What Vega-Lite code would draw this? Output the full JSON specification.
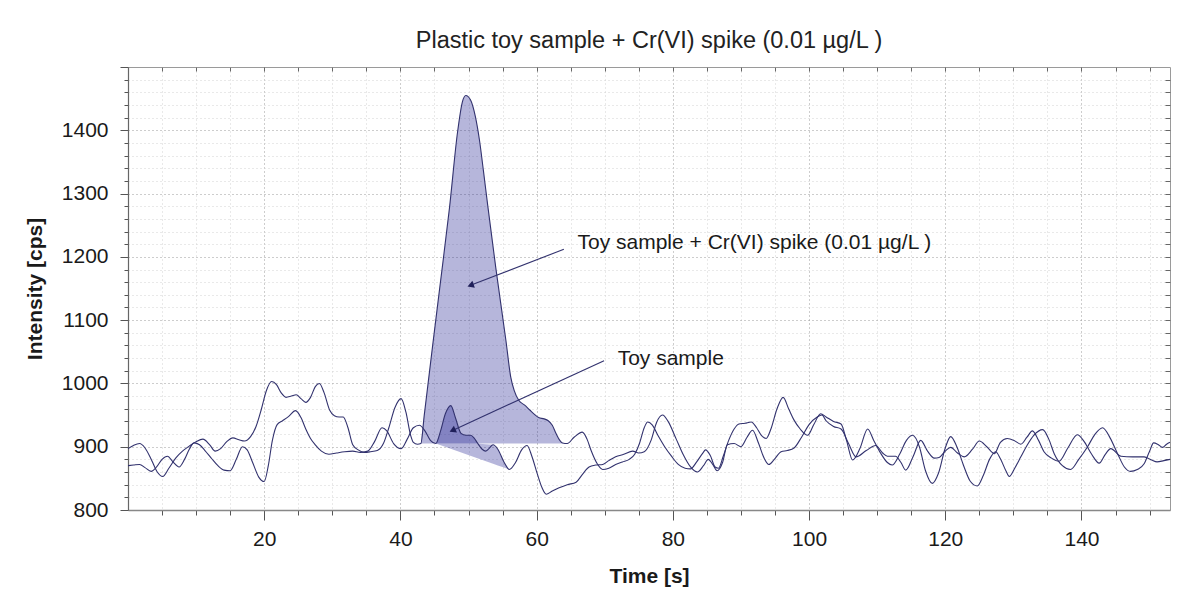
{
  "$schema": "https://vega.github.io/schema/vega-lite/v6.json",
  "width": 1042,
  "height": 443,
  "autosize": {"type": "none"},
  "padding": {"left": 128, "top": 67, "right": 28, "bottom": 90},
  "background": "white",
  "title": {"text": "Plastic toy sample + Cr(VI) spike (0.01 µg/L )", "font": "Liberation Sans", "fontSize": 23.5, "fontWeight": "normal", "color": "#222222", "anchor": "middle", "offset": 4},
  "config": {
    "view": {"stroke": "#9a9a9a", "strokeWidth": 1},
    "font": "Liberation Sans"
  },
  "datasets": {
    "signal": [
      {"t":0,"v":897,"s":"spike"},{"t":0.8,"v":902,"s":"spike"},{"t":1.7,"v":905,"s":"spike"},{"t":2.5,"v":898,"s":"spike"},{"t":3.5,"v":878,"s":"spike"},{"t":4.3,"v":860,"s":"spike"},{"t":5.1,"v":853,"s":"spike"},{"t":6.0,"v":866,"s":"spike"},{"t":7.0,"v":882,"s":"spike"},{"t":8.0,"v":893,"s":"spike"},{"t":9.0,"v":901,"s":"spike"},{"t":10.0,"v":908,"s":"spike"},{"t":11.0,"v":912,"s":"spike"},{"t":12.0,"v":903,"s":"spike"},{"t":12.8,"v":893,"s":"spike"},{"t":13.6,"v":897,"s":"spike"},{"t":14.5,"v":908,"s":"spike"},{"t":15.4,"v":914,"s":"spike"},{"t":16.3,"v":911,"s":"spike"},{"t":17.1,"v":909,"s":"spike"},{"t":18.0,"v":916,"s":"spike"},{"t":18.8,"v":932,"s":"spike"},{"t":19.6,"v":960,"s":"spike"},{"t":20.3,"v":988,"s":"spike"},{"t":21.1,"v":1003,"s":"spike"},{"t":21.8,"v":998,"s":"spike"},{"t":22.5,"v":985,"s":"spike"},{"t":23.2,"v":978,"s":"spike"},{"t":24.0,"v":980,"s":"spike"},{"t":24.7,"v":982,"s":"spike"},{"t":25.4,"v":976,"s":"spike"},{"t":26.1,"v":970,"s":"spike"},{"t":26.8,"v":978,"s":"spike"},{"t":27.5,"v":995,"s":"spike"},{"t":28.1,"v":1000,"s":"spike"},{"t":28.8,"v":985,"s":"spike"},{"t":29.6,"v":958,"s":"spike"},{"t":30.3,"v":949,"s":"spike"},{"t":31.0,"v":947,"s":"spike"},{"t":31.6,"v":947,"s":"spike"},{"t":32.3,"v":930,"s":"spike"},{"t":33.0,"v":903,"s":"spike"},{"t":33.8,"v":895,"s":"spike"},{"t":34.7,"v":891,"s":"spike"},{"t":35.6,"v":892,"s":"spike"},{"t":36.6,"v":894,"s":"spike"},{"t":37.5,"v":905,"s":"spike"},{"t":38.3,"v":930,"s":"spike"},{"t":39.2,"v":962,"s":"spike"},{"t":40.1,"v":976,"s":"spike"},{"t":40.8,"v":955,"s":"spike"},{"t":41.5,"v":918,"s":"spike"},{"t":41.9,"v":907,"s":"spike"},{"t":42.5,"v":904,"s":"spike"},{"t":43.0,"v":905,"s":"spike"},{"t":43.5,"v":950,"s":"spike"},{"t":44.7,"v":1057,"s":"spike"},{"t":45.9,"v":1162,"s":"spike"},{"t":47.2,"v":1277,"s":"spike"},{"t":48.4,"v":1398,"s":"spike"},{"t":49.1,"v":1445,"s":"spike"},{"t":49.6,"v":1455,"s":"spike"},{"t":50.3,"v":1448,"s":"spike"},{"t":51.0,"v":1422,"s":"spike"},{"t":51.6,"v":1385,"s":"spike"},{"t":52.2,"v":1335,"s":"spike"},{"t":52.8,"v":1283,"s":"spike"},{"t":54.0,"v":1183,"s":"spike"},{"t":55.5,"v":1067,"s":"spike"},{"t":56.2,"v":1010,"s":"spike"},{"t":56.7,"v":989,"s":"spike"},{"t":57.4,"v":973,"s":"spike"},{"t":58.2,"v":966,"s":"spike"},{"t":59.0,"v":958,"s":"spike"},{"t":59.6,"v":952,"s":"spike"},{"t":60.3,"v":946,"s":"spike"},{"t":61.1,"v":944,"s":"spike"},{"t":61.7,"v":941,"s":"spike"},{"t":62.3,"v":934,"s":"spike"},{"t":62.8,"v":922,"s":"spike"},{"t":63.4,"v":910,"s":"spike"},{"t":63.8,"v":906,"s":"spike"},{"t":64.5,"v":905,"s":"spike"},{"t":65.5,"v":915,"s":"spike"},{"t":66.7,"v":923,"s":"spike"},{"t":67.4,"v":912,"s":"spike"},{"t":68.0,"v":894,"s":"spike"},{"t":68.9,"v":873,"s":"spike"},{"t":69.7,"v":864,"s":"spike"},{"t":70.6,"v":866,"s":"spike"},{"t":71.6,"v":872,"s":"spike"},{"t":72.6,"v":876,"s":"spike"},{"t":73.6,"v":880,"s":"spike"},{"t":74.4,"v":888,"s":"spike"},{"t":75.1,"v":905,"s":"spike"},{"t":75.8,"v":930,"s":"spike"},{"t":76.3,"v":939,"s":"spike"},{"t":77.0,"v":934,"s":"spike"},{"t":77.8,"v":918,"s":"spike"},{"t":78.8,"v":900,"s":"spike"},{"t":79.8,"v":885,"s":"spike"},{"t":80.8,"v":872,"s":"spike"},{"t":81.8,"v":866,"s":"spike"},{"t":82.6,"v":865,"s":"spike"},{"t":83.5,"v":876,"s":"spike"},{"t":84.4,"v":890,"s":"spike"},{"t":84.8,"v":895,"s":"spike"},{"t":85.5,"v":886,"s":"spike"},{"t":86.2,"v":868,"s":"spike"},{"t":86.7,"v":866,"s":"spike"},{"t":87.4,"v":885,"s":"spike"},{"t":88.2,"v":910,"s":"spike"},{"t":89.0,"v":928,"s":"spike"},{"t":89.7,"v":936,"s":"spike"},{"t":90.6,"v":937,"s":"spike"},{"t":91.5,"v":939,"s":"spike"},{"t":92.3,"v":930,"s":"spike"},{"t":93.0,"v":918,"s":"spike"},{"t":93.7,"v":913,"s":"spike"},{"t":94.4,"v":928,"s":"spike"},{"t":95.3,"v":960,"s":"spike"},{"t":96.2,"v":978,"s":"spike"},{"t":97.0,"v":960,"s":"spike"},{"t":97.8,"v":942,"s":"spike"},{"t":98.7,"v":928,"s":"spike"},{"t":99.8,"v":918,"s":"spike"},{"t":100.7,"v":935,"s":"spike"},{"t":101.7,"v":952,"s":"spike"},{"t":102.5,"v":947,"s":"spike"},{"t":103.6,"v":940,"s":"spike"},{"t":104.7,"v":936,"s":"spike"},{"t":105.5,"v":910,"s":"spike"},{"t":106.4,"v":879,"s":"spike"},{"t":107.5,"v":898,"s":"spike"},{"t":108.6,"v":928,"s":"spike"},{"t":109.5,"v":910,"s":"spike"},{"t":110.5,"v":890,"s":"spike"},{"t":111.5,"v":875,"s":"spike"},{"t":112.2,"v":871,"s":"spike"},{"t":113.3,"v":888,"s":"spike"},{"t":114.3,"v":910,"s":"spike"},{"t":115.2,"v":918,"s":"spike"},{"t":116.2,"v":900,"s":"spike"},{"t":117.1,"v":862,"s":"spike"},{"t":118.1,"v":842,"s":"spike"},{"t":119.0,"v":858,"s":"spike"},{"t":120.0,"v":898,"s":"spike"},{"t":120.8,"v":916,"s":"spike"},{"t":121.7,"v":900,"s":"spike"},{"t":122.7,"v":870,"s":"spike"},{"t":123.7,"v":845,"s":"spike"},{"t":124.7,"v":838,"s":"spike"},{"t":125.6,"v":855,"s":"spike"},{"t":126.5,"v":880,"s":"spike"},{"t":127.4,"v":892,"s":"spike"},{"t":128.1,"v":881,"s":"spike"},{"t":128.9,"v":862,"s":"spike"},{"t":129.4,"v":853,"s":"spike"},{"t":130.2,"v":866,"s":"spike"},{"t":131.1,"v":884,"s":"spike"},{"t":132.0,"v":902,"s":"spike"},{"t":133.0,"v":918,"s":"spike"},{"t":134.3,"v":927,"s":"spike"},{"t":135.2,"v":912,"s":"spike"},{"t":136.0,"v":889,"s":"spike"},{"t":137.2,"v":870,"s":"spike"},{"t":138.4,"v":864,"s":"spike"},{"t":139.6,"v":880,"s":"spike"},{"t":140.9,"v":900,"s":"spike"},{"t":142.0,"v":920,"s":"spike"},{"t":143.1,"v":930,"s":"spike"},{"t":144.2,"v":914,"s":"spike"},{"t":145.3,"v":889,"s":"spike"},{"t":146.3,"v":868,"s":"spike"},{"t":147.2,"v":861,"s":"spike"},{"t":148.2,"v":864,"s":"spike"},{"t":149.2,"v":873,"s":"spike"},{"t":150.0,"v":893,"s":"spike"},{"t":150.6,"v":906,"s":"spike"},{"t":151.3,"v":903,"s":"spike"},{"t":151.9,"v":899,"s":"spike"},{"t":152.5,"v":904,"s":"spike"},{"t":153.0,"v":907,"s":"spike"},
      {"t":0,"v":870,"s":"toy"},{"t":0.8,"v":871,"s":"toy"},{"t":1.7,"v":872,"s":"toy"},{"t":2.5,"v":867,"s":"toy"},{"t":3.4,"v":861,"s":"toy"},{"t":4.2,"v":868,"s":"toy"},{"t":5.0,"v":880,"s":"toy"},{"t":5.8,"v":885,"s":"toy"},{"t":6.6,"v":876,"s":"toy"},{"t":7.5,"v":868,"s":"toy"},{"t":8.3,"v":880,"s":"toy"},{"t":9.0,"v":896,"s":"toy"},{"t":9.7,"v":906,"s":"toy"},{"t":10.5,"v":903,"s":"toy"},{"t":11.3,"v":894,"s":"toy"},{"t":12.3,"v":881,"s":"toy"},{"t":13.2,"v":870,"s":"toy"},{"t":14.1,"v":863,"s":"toy"},{"t":15.0,"v":862,"s":"toy"},{"t":15.9,"v":880,"s":"toy"},{"t":16.8,"v":900,"s":"toy"},{"t":17.5,"v":895,"s":"toy"},{"t":18.3,"v":875,"s":"toy"},{"t":19.2,"v":852,"s":"toy"},{"t":20.0,"v":845,"s":"toy"},{"t":20.6,"v":870,"s":"toy"},{"t":21.2,"v":910,"s":"toy"},{"t":21.9,"v":935,"s":"toy"},{"t":22.7,"v":941,"s":"toy"},{"t":23.6,"v":948,"s":"toy"},{"t":24.6,"v":957,"s":"toy"},{"t":25.4,"v":946,"s":"toy"},{"t":26.1,"v":928,"s":"toy"},{"t":26.8,"v":913,"s":"toy"},{"t":27.5,"v":903,"s":"toy"},{"t":28.4,"v":893,"s":"toy"},{"t":29.5,"v":888,"s":"toy"},{"t":30.6,"v":890,"s":"toy"},{"t":31.8,"v":892,"s":"toy"},{"t":33.0,"v":893,"s":"toy"},{"t":34.1,"v":891,"s":"toy"},{"t":35.2,"v":893,"s":"toy"},{"t":36.2,"v":908,"s":"toy"},{"t":37.3,"v":930,"s":"toy"},{"t":38.0,"v":925,"s":"toy"},{"t":39.0,"v":905,"s":"toy"},{"t":40.1,"v":897,"s":"toy"},{"t":41.0,"v":912,"s":"toy"},{"t":41.9,"v":930,"s":"toy"},{"t":42.8,"v":934,"s":"toy"},{"t":43.6,"v":925,"s":"toy"},{"t":44.4,"v":910,"s":"toy"},{"t":45.2,"v":905,"s":"toy"},{"t":45.9,"v":925,"s":"toy"},{"t":46.6,"v":952,"s":"toy"},{"t":47.4,"v":965,"s":"toy"},{"t":48.1,"v":945,"s":"toy"},{"t":48.9,"v":921,"s":"toy"},{"t":49.6,"v":918,"s":"toy"},{"t":50.3,"v":918,"s":"toy"},{"t":50.8,"v":914,"s":"toy"},{"t":51.3,"v":906,"s":"toy"},{"t":52.0,"v":896,"s":"toy"},{"t":52.5,"v":893,"s":"toy"},{"t":53.0,"v":897,"s":"toy"},{"t":53.6,"v":903,"s":"toy"},{"t":54.3,"v":896,"s":"toy"},{"t":55.2,"v":876,"s":"toy"},{"t":56.0,"v":864,"s":"toy"},{"t":56.9,"v":875,"s":"toy"},{"t":57.8,"v":895,"s":"toy"},{"t":58.6,"v":902,"s":"toy"},{"t":59.3,"v":885,"s":"toy"},{"t":60.1,"v":857,"s":"toy"},{"t":60.8,"v":835,"s":"toy"},{"t":61.4,"v":825,"s":"toy"},{"t":62.3,"v":830,"s":"toy"},{"t":63.3,"v":835,"s":"toy"},{"t":64.5,"v":840,"s":"toy"},{"t":65.8,"v":844,"s":"toy"},{"t":66.7,"v":856,"s":"toy"},{"t":67.7,"v":868,"s":"toy"},{"t":68.7,"v":871,"s":"toy"},{"t":69.7,"v":872,"s":"toy"},{"t":70.6,"v":878,"s":"toy"},{"t":71.6,"v":884,"s":"toy"},{"t":72.8,"v":888,"s":"toy"},{"t":74.1,"v":893,"s":"toy"},{"t":75.0,"v":890,"s":"toy"},{"t":75.8,"v":892,"s":"toy"},{"t":76.8,"v":910,"s":"toy"},{"t":77.6,"v":938,"s":"toy"},{"t":78.5,"v":950,"s":"toy"},{"t":79.3,"v":940,"s":"toy"},{"t":80.5,"v":912,"s":"toy"},{"t":81.5,"v":888,"s":"toy"},{"t":82.6,"v":868,"s":"toy"},{"t":83.6,"v":860,"s":"toy"},{"t":84.5,"v":870,"s":"toy"},{"t":85.2,"v":880,"s":"toy"},{"t":85.8,"v":873,"s":"toy"},{"t":86.5,"v":862,"s":"toy"},{"t":87.3,"v":875,"s":"toy"},{"t":88.0,"v":903,"s":"toy"},{"t":89.0,"v":905,"s":"toy"},{"t":90.0,"v":900,"s":"toy"},{"t":90.9,"v":915,"s":"toy"},{"t":91.7,"v":926,"s":"toy"},{"t":92.6,"v":905,"s":"toy"},{"t":93.4,"v":882,"s":"toy"},{"t":94.1,"v":872,"s":"toy"},{"t":94.9,"v":880,"s":"toy"},{"t":95.9,"v":892,"s":"toy"},{"t":96.8,"v":894,"s":"toy"},{"t":97.8,"v":898,"s":"toy"},{"t":98.9,"v":915,"s":"toy"},{"t":100.0,"v":935,"s":"toy"},{"t":101.2,"v":947,"s":"toy"},{"t":101.9,"v":950,"s":"toy"},{"t":102.5,"v":941,"s":"toy"},{"t":103.6,"v":932,"s":"toy"},{"t":104.7,"v":928,"s":"toy"},{"t":105.8,"v":905,"s":"toy"},{"t":106.9,"v":884,"s":"toy"},{"t":108.4,"v":894,"s":"toy"},{"t":109.8,"v":902,"s":"toy"},{"t":110.8,"v":890,"s":"toy"},{"t":111.5,"v":885,"s":"toy"},{"t":112.7,"v":885,"s":"toy"},{"t":113.5,"v":875,"s":"toy"},{"t":114.2,"v":863,"s":"toy"},{"t":115.3,"v":885,"s":"toy"},{"t":116.4,"v":910,"s":"toy"},{"t":117.4,"v":893,"s":"toy"},{"t":118.4,"v":882,"s":"toy"},{"t":119.1,"v":883,"s":"toy"},{"t":120.0,"v":893,"s":"toy"},{"t":120.8,"v":899,"s":"toy"},{"t":121.8,"v":890,"s":"toy"},{"t":122.8,"v":884,"s":"toy"},{"t":124.0,"v":896,"s":"toy"},{"t":125.0,"v":909,"s":"toy"},{"t":126.1,"v":900,"s":"toy"},{"t":127.2,"v":889,"s":"toy"},{"t":128.1,"v":907,"s":"toy"},{"t":129.1,"v":913,"s":"toy"},{"t":130.1,"v":910,"s":"toy"},{"t":131.1,"v":904,"s":"toy"},{"t":132.0,"v":915,"s":"toy"},{"t":132.8,"v":925,"s":"toy"},{"t":133.7,"v":910,"s":"toy"},{"t":134.5,"v":892,"s":"toy"},{"t":135.6,"v":882,"s":"toy"},{"t":136.7,"v":877,"s":"toy"},{"t":138.0,"v":898,"s":"toy"},{"t":139.4,"v":919,"s":"toy"},{"t":140.4,"v":908,"s":"toy"},{"t":141.5,"v":888,"s":"toy"},{"t":142.6,"v":874,"s":"toy"},{"t":143.5,"v":888,"s":"toy"},{"t":144.3,"v":897,"s":"toy"},{"t":145.8,"v":885,"s":"toy"},{"t":147.5,"v":884,"s":"toy"},{"t":149.2,"v":884,"s":"toy"},{"t":150.3,"v":879,"s":"toy"},{"t":151.1,"v":876,"s":"toy"},{"t":152.1,"v":878,"s":"toy"},{"t":153.0,"v":880,"s":"toy"}
    ],
    "wedge": [
      {"t":45.2,"top":905,"bottom":905},{"t":48.0,"top":905,"bottom":894.4},{"t":51.0,"top":905,"bottom":883},{"t":53.6,"top":903,"bottom":873},{"t":54.3,"top":896,"bottom":870.4},{"t":55.2,"top":876,"bottom":867},{"t":56.0,"top":864,"bottom":864}
    ],
    "arrows": [
      {"id":"spike","t":64.0,"v":1212,"t2":50.3,"v2":1155},
      {"id":"toy","t":69.9,"v":1036,"t2":47.65,"v2":925.7}
    ],
    "labels": [
      {"t":66.0,"v":1222,"text":"Toy sample + Cr(VI) spike (0.01 µg/L )"},
      {"t":71.9,"v":1039,"text":"Toy sample"}
    ]
  },
  "resolve": {"axis": {"x": "independent", "y": "independent"}},
  "layer": [
    {
      "data": {"name": "signal"},
      "transform": [{"filter": "datum.s === 'spike' && datum.t >= 43 && datum.t <= 63.8"}],
      "mark": {"type": "area", "interpolate": "monotone", "fill": "#14148c", "opacity": 0.31},
      "encoding": {
        "x": {"field": "t", "type": "quantitative", "scale": {"domain": [0, 153], "nice": false, "zero": false}, "axis": null},
        "y": {"field": "v", "type": "quantitative", "scale": {"domain": [800, 1500], "nice": false, "zero": false}, "axis": null},
        "y2": {"datum": 905}
      }
    },
    {
      "data": {"name": "signal"},
      "transform": [{"filter": "datum.s === 'toy' && datum.t >= 45.2 && datum.t <= 51.3"}],
      "mark": {"type": "area", "interpolate": "monotone", "fill": "#14148c", "opacity": 0.31},
      "encoding": {
        "x": {"field": "t", "type": "quantitative", "scale": {"domain": [0, 153], "nice": false, "zero": false}, "axis": null},
        "y": {"field": "v", "type": "quantitative", "scale": {"domain": [800, 1500], "nice": false, "zero": false}, "axis": null},
        "y2": {"datum": 905}
      }
    },
    {
      "data": {"name": "wedge"},
      "mark": {"type": "area", "fill": "#14148c", "opacity": 0.31},
      "encoding": {
        "x": {"field": "t", "type": "quantitative", "scale": {"domain": [0, 153], "nice": false, "zero": false}, "axis": null},
        "y": {"field": "top", "type": "quantitative", "scale": {"domain": [800, 1500], "nice": false, "zero": false}, "axis": null},
        "y2": {"field": "bottom"}
      }
    },
    {
      "data": {"name": "signal"},
      "mark": {"type": "line", "interpolate": "monotone", "color": "#32326e", "strokeWidth": 1.1},
      "encoding": {
        "x": {
          "field": "t", "type": "quantitative",
          "scale": {"domain": [0, 153], "nice": false, "zero": false},
          "axis": {
            "orient": "bottom",
            "values": [5,10,15,20,25,30,35,40,45,50,55,60,65,70,75,80,85,90,95,100,105,110,115,120,125,130,135,140,145,150],
            "labelExpr": "datum.value % 20 === 0 ? datum.value : ''",
            "labelOverlap": false, "labelFlush": false, "labelBound": false,
            "tickSize": {"condition": {"test": "datum.value % 20 === 0", "value": 10}, "value": 5},
            "tickColor": "#555555",
            "grid": true,
            "gridColor": {"condition": {"test": "datum.value % 20 === 0", "value": "#9a9a9a"}, "value": "#d2d2d2"},
            "gridDash": [1, 3],
            "gridWidth": 1,
            "domainColor": "#888888", "domainWidth": 1.5,
            "labelFont": "Liberation Sans", "labelFontSize": 21, "labelColor": "#1a1a1a", "labelPadding": 8,
            "title": "Time [s]", "titleFont": "Liberation Sans", "titleFontSize": 21, "titleFontWeight": "bold", "titleColor": "#1a1a1a", "titlePadding": 16
          }
        },
        "y": {
          "field": "v", "type": "quantitative",
          "scale": {"domain": [800, 1500], "nice": false, "zero": false},
          "axis": {
            "orient": "left",
            "values": [800,820,840,860,880,900,920,940,960,980,1000,1020,1040,1060,1080,1100,1120,1140,1160,1180,1200,1220,1240,1260,1280,1300,1320,1340,1360,1380,1400,1420,1440,1460,1480,1500],
            "labelExpr": "datum.value % 100 === 0 && datum.value < 1500 ? datum.value : ''",
            "labelOverlap": false, "labelFlush": false, "labelBound": false,
            "tickSize": {"condition": {"test": "datum.value % 100 === 0", "value": 8}, "value": 4},
            "tickColor": "#555555",
            "grid": true,
            "gridColor": {"condition": {"test": "datum.value % 100 === 0", "value": "#9a9a9a"}, "value": "#d2d2d2"},
            "gridDash": [1, 3],
            "gridWidth": 1,
            "domainColor": "#666666", "domainWidth": 1.2,
            "labelFont": "Liberation Sans", "labelFontSize": 21, "labelColor": "#1a1a1a", "labelPadding": 12,
            "title": "Intensity [cps]", "titleFont": "Liberation Sans", "titleFontSize": 21, "titleFontWeight": "bold", "titleColor": "#1a1a1a", "titlePadding": 16
          }
        },
        "detail": {"field": "s", "type": "nominal"}
      }
    },
    {
      "data": {"name": "arrows"},
      "mark": {"type": "rule", "color": "#32326e", "strokeWidth": 1.1},
      "encoding": {
        "x": {
          "field": "t", "type": "quantitative", "scale": {"domain": [0, 153], "nice": false, "zero": false},
          "axis": {"orient": "top", "values": [5,10,15,20,25,30,35,40,45,50,55,60,65,70,75,80,85,90,95,100,105,110,115,120,125,130,135,140,145,150], "labels": false, "grid": false, "domain": false, "tickSize": -4, "tickColor": "#666666", "title": null}
        },
        "y": {
          "field": "v", "type": "quantitative", "scale": {"domain": [800, 1500], "nice": false, "zero": false},
          "axis": {"orient": "right", "values": [820,840,860,880,900,920,940,960,980,1000,1020,1040,1060,1080,1100,1120,1140,1160,1180,1200,1220,1240,1260,1280,1300,1320,1340,1360,1380,1400,1420,1440,1460,1480], "labels": false, "grid": false, "domain": false, "tickSize": -5, "tickColor": "#666666", "title": null}
        },
        "x2": {"field": "t2"},
        "y2": {"field": "v2"}
      }
    },
    {
      "data": {"name": "arrows"},
      "transform": [{"filter": "datum.id === 'spike'"}],
      "mark": {"type": "point", "shape": "triangle-up", "filled": true, "color": "#1f1f5a", "opacity": 1, "size": 55, "angle": 251},
      "encoding": {
        "x": {"field": "t2", "type": "quantitative", "scale": {"domain": [0, 153], "nice": false, "zero": false}, "axis": null},
        "y": {"field": "v2", "type": "quantitative", "scale": {"domain": [800, 1500], "nice": false, "zero": false}, "axis": null}
      }
    },
    {
      "data": {"name": "arrows"},
      "transform": [{"filter": "datum.id === 'toy'"}],
      "mark": {"type": "point", "shape": "triangle-up", "filled": true, "color": "#1f1f5a", "opacity": 1, "size": 55, "angle": 245},
      "encoding": {
        "x": {"field": "t2", "type": "quantitative", "scale": {"domain": [0, 153], "nice": false, "zero": false}, "axis": null},
        "y": {"field": "v2", "type": "quantitative", "scale": {"domain": [800, 1500], "nice": false, "zero": false}, "axis": null}
      }
    },
    {
      "data": {"name": "labels"},
      "mark": {"type": "text", "align": "left", "baseline": "middle", "font": "Liberation Sans", "fontSize": 21, "color": "#1a1a1a"},
      "encoding": {
        "x": {"field": "t", "type": "quantitative", "scale": {"domain": [0, 153], "nice": false, "zero": false}, "axis": null},
        "y": {"field": "v", "type": "quantitative", "scale": {"domain": [800, 1500], "nice": false, "zero": false}, "axis": null},
        "text": {"field": "text"}
      }
    }
  ]
}
